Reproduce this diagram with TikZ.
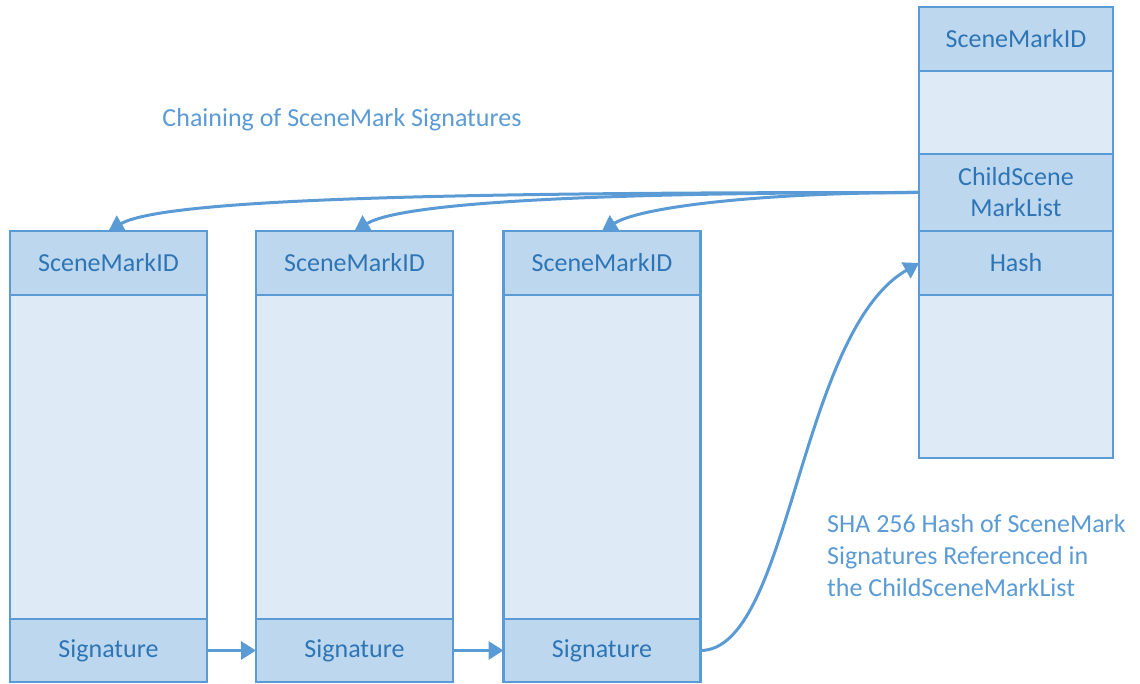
\documentclass[tikz,border=0pt]{standalone}
\usepackage{fontspec}
\setmainfont{Carlito}
\usetikzlibrary{shapes,arrows.meta,positioning}

\definecolor{smline}{HTML}{5B9BD5}
\definecolor{smhead}{HTML}{BDD7EE}
\definecolor{smbody}{HTML}{DEEBF7}
\definecolor{smtext}{HTML}{2E75B6}

\tikzset{
	field/.style={draw=smline, line width=2.8pt, fill=smhead, text=smtext,
		minimum width=197pt, outer sep=0pt, inner sep=0pt,
		font=\fontsize{26}{31}\selectfont},
	blank/.style={field, fill=smbody},
	link/.style={draw=smline, line width=3pt, -{Triangle[length=15pt,width=18pt]}},
	note/.style={text=smline, inner sep=0pt, align=left,
		font=\fontsize{26}{32}\selectfont}
}

\begin{document}
\begin{tikzpicture}[x=1pt,y=1pt]
		\useasboundingbox (0,0) rectangle (1140,683);
		
		% chained SceneMarks
		\node[field, minimum height=64pt] (id1) at (108.5,420) {SceneMarkID};
		\node[blank, minimum height=324pt, below=0pt of id1] (body1) {};
		\node[field, minimum height=63pt, below=0pt of body1] (sig1) {Signature};
		
		\node[field, minimum height=64pt] (id2) at (354.5,420) {SceneMarkID};
		\node[blank, minimum height=324pt, below=0pt of id2] (body2) {};
		\node[field, minimum height=63pt, below=0pt of body2] (sig2) {Signature};
		
		\node[field, minimum height=64pt] (id3) at (602,420) {SceneMarkID};
		\node[blank, minimum height=324pt, below=0pt of id3] (body3) {};
		\node[field, minimum height=63pt, below=0pt of body3] (sig3) {Signature};
		
		% parent SceneMark
		\node[field, minimum width=194pt, minimum height=64pt] (pid) at (1016,644) {SceneMarkID};
		\node[blank, minimum width=194pt, minimum height=83pt, below=0pt of pid] (pbody) {};
		\node[field, minimum width=194pt, minimum height=77pt, align=center, below=0pt of pbody] (clist) {ChildScene\\MarkList};
		\node[field, minimum width=194pt, minimum height=64pt, below=0pt of clist] (hash) {Hash};
		\node[blank, minimum width=194pt, minimum height=163pt, below=0pt of hash] (prest) {};
		
		\node[note] (title) at (342,563) {Chaining of SceneMark Signatures};
		\node[note, anchor=north west] (sha) at (827,169) {SHA 256 Hash of SceneMark\\Signatures Referenced in\\the ChildSceneMarkList};
		
		\draw[link] (sig1) -- (sig2);
		\draw[link] (sig2) -- (sig3);
		\draw[link] (sig3.east) .. controls +(90,0) and +(-121,-70) .. (hash.west);
		
		\draw[link] (clist.west) .. controls +(-400,0) and +(60,35) .. (id1.north);
		\draw[link] (clist.west) .. controls +(-300,0) and +(50,30) .. (id2.north);
		\draw[link] (clist.west) .. controls +(-150,0) and +(40,25) .. (id3.north);
		
	\end{tikzpicture}
\end{document}
